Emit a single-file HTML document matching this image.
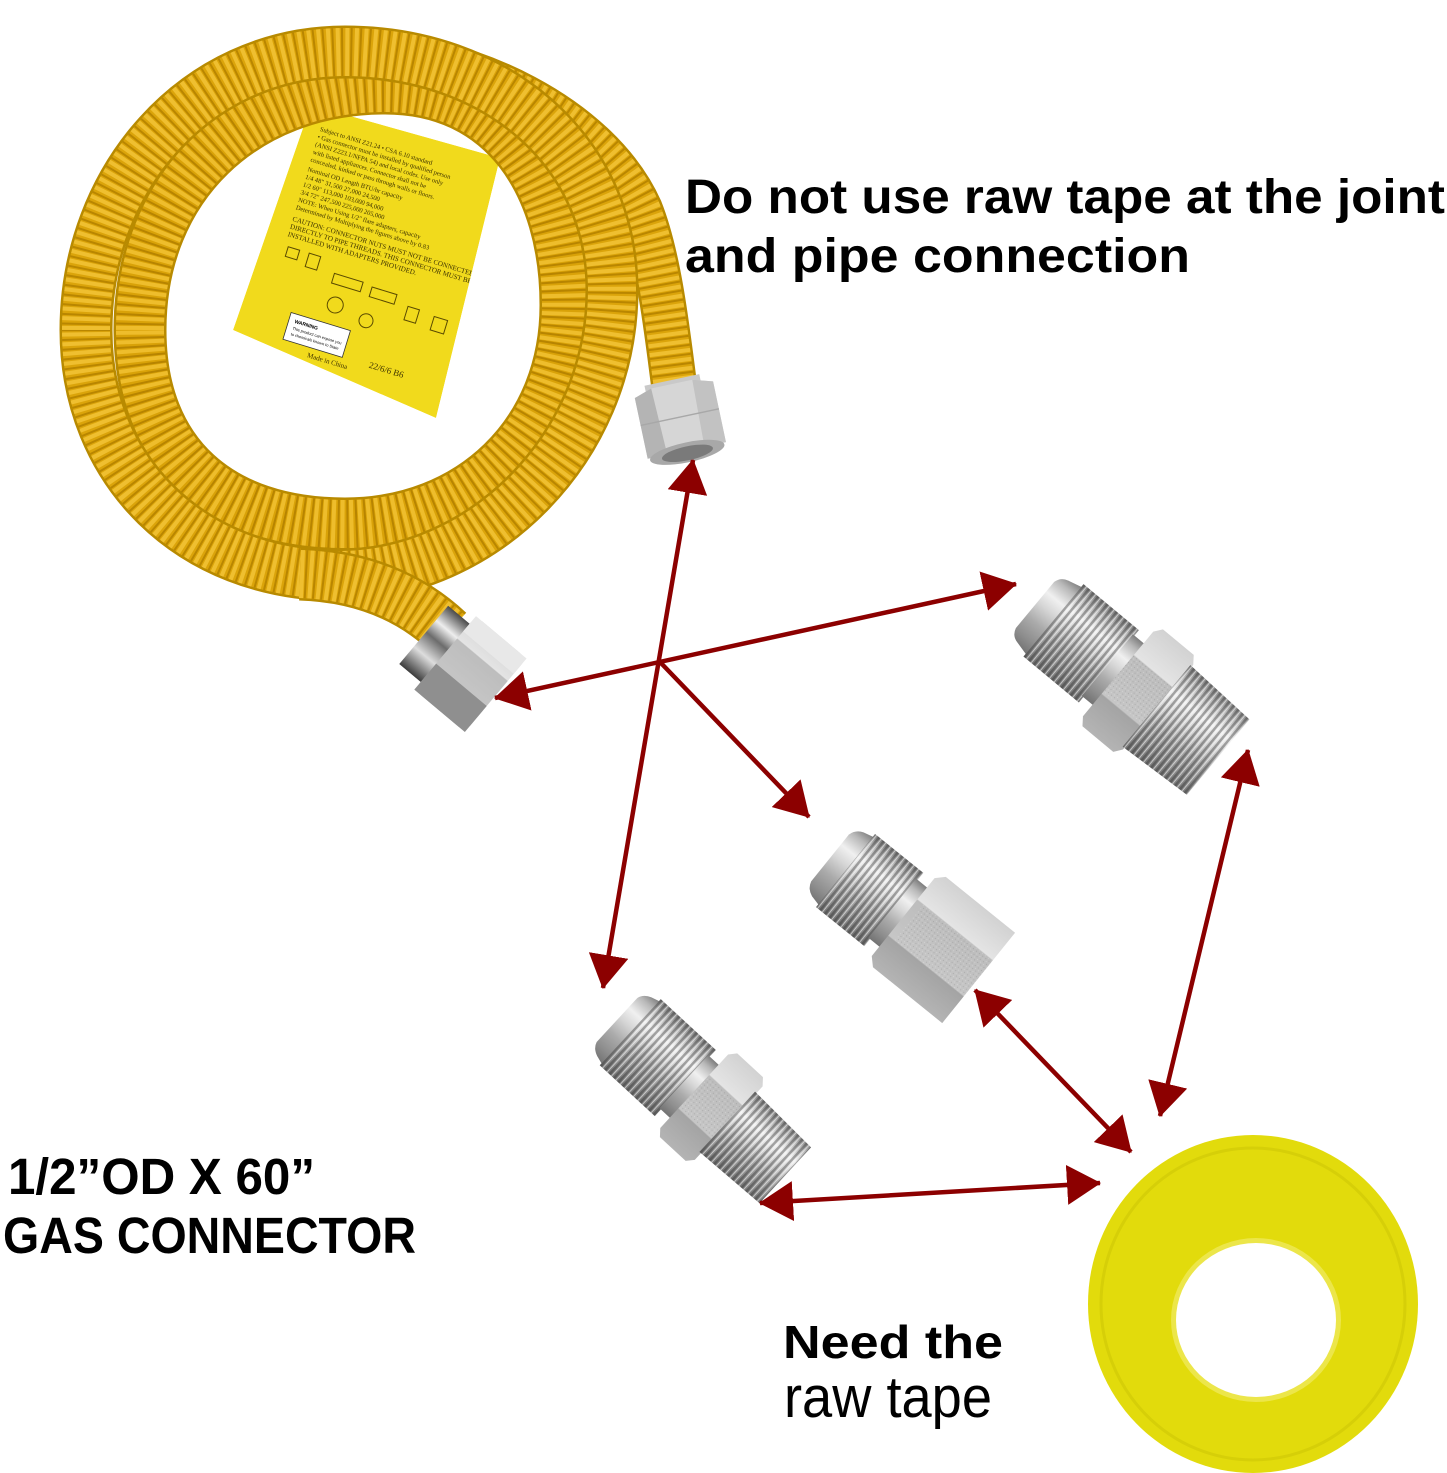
<!DOCTYPE html>
<html>
<head>
<meta charset="utf-8">
<style>
  html,body{margin:0;padding:0;background:#fff;}
  body{width:1447px;height:1473px;overflow:hidden;}
  svg{display:block;}
</style>
</head>
<body>
<svg width="1447" height="1473" viewBox="0 0 1447 1473" xmlns="http://www.w3.org/2000/svg">
<defs>
  <path id="sB" d="M140,330 C140,185 245,88 385,88 C505,88 566,185 566,305 C566,435 470,524 345,524 C220,524 140,455 140,330 Z"/>
  <path id="sA" d="M86,330 C86,180 195,52 345,52 C495,52 612,150 612,290 C612,450 480,575 340,575 C190,575 86,470 86,330 Z"/>
  <path id="sT" d="M300,574 C360,576 410,596 448,632"/>
  <path id="sC" d="M345,52 C470,52 600,120 640,210 C660,260 668,340 675,392"/>

  <linearGradient id="mg" x1="0" y1="0" x2="0" y2="1">
    <stop offset="0" stop-color="#7e7e7e"/>
    <stop offset="0.12" stop-color="#b8b8b8"/>
    <stop offset="0.3" stop-color="#f0f0f0"/>
    <stop offset="0.45" stop-color="#d6d6d6"/>
    <stop offset="0.65" stop-color="#ababab"/>
    <stop offset="0.85" stop-color="#8e8e8e"/>
    <stop offset="1" stop-color="#737373"/>
  </linearGradient>
  <linearGradient id="hg" x1="0" y1="0" x2="0" y2="1">
    <stop offset="0" stop-color="#d2d2d2"/>
    <stop offset="0.3" stop-color="#e4e4e4"/>
    <stop offset="0.31" stop-color="#bdbdbd"/>
    <stop offset="0.7" stop-color="#c6c6c6"/>
    <stop offset="0.71" stop-color="#a4a4a4"/>
    <stop offset="1" stop-color="#b4b4b4"/>
  </linearGradient>
  <linearGradient id="chrome" x1="0" y1="0" x2="0" y2="1">
    <stop offset="0" stop-color="#4a4a4a"/>
    <stop offset="0.25" stop-color="#eeeeee"/>
    <stop offset="0.45" stop-color="#6c6c6c"/>
    <stop offset="0.7" stop-color="#dddddd"/>
    <stop offset="1" stop-color="#3c3c3c"/>
  </linearGradient>
  <pattern id="th" patternUnits="userSpaceOnUse" width="6" height="6">
    <rect x="0" y="0" width="2.5" height="6" fill="rgba(40,40,40,0.38)"/>
    <rect x="3.5" y="0" width="1" height="6" fill="rgba(255,255,255,0.55)"/>
  </pattern>
  <pattern id="grain" patternUnits="userSpaceOnUse" width="4" height="4">
    <rect x="0" y="0" width="1" height="1" fill="rgba(0,0,0,0.12)"/>
    <rect x="2" y="2" width="1" height="1" fill="rgba(255,255,255,0.25)"/>
  </pattern>

  <marker id="ah" viewBox="0 0 34 40" refX="33" refY="20" markerWidth="34" markerHeight="40" markerUnits="userSpaceOnUse" orient="auto-start-reverse">
    <path d="M0,0 L34,20 L0,40 Z" fill="#8c0000"/>
  </marker>

  <clipPath id="lc"><polygon points="311,105 500,158 436,418 233,330"/></clipPath>
</defs>

<rect x="0" y="0" width="1447" height="1473" fill="#ffffff"/>

<!-- ===== Label on hose ===== -->
<g clip-path="url(#lc)">
  <polygon points="311,105 500,158 436,418 233,330" fill="#f1da1c"/>
  <g transform="translate(318,122) rotate(17)" font-family="Liberation Serif, serif" font-size="6.5" fill="#3d3200">
    <text x="4" y="8">Subject to ANSI Z21.24 • CSA 6.10 standard</text>
    <text x="4" y="16">• Gas connector must be installed by qualified person</text>
    <text x="4" y="24">(ANSI Z223.1/NFPA 54) and local codes. Use only</text>
    <text x="4" y="32">with listed appliances. Connector shall not be</text>
    <text x="4" y="40">concealed, kinked or pass through walls or floors.</text>
    <text x="4" y="50">Nominal OD   Length   BTU/hr capacity</text>
    <text x="4" y="58">1/4    48"    31,500   27,000   24,500</text>
    <text x="4" y="66">1/2    60"    113,000  103,000  94,000</text>
    <text x="4" y="74">3/4    72"    247,500  225,000  205,000</text>
    <text x="4" y="82">NOTE: When Using 1/2" flare adapters, capacity</text>
    <text x="4" y="90">Determined by Multiplying the figures above by 0.83</text>
    <text x="4" y="102" font-size="7">CAUTION: CONNECTOR NUTS MUST NOT BE CONNECTED</text>
    <text x="4" y="110" font-size="7">DIRECTLY TO PIPE THREADS. THIS CONNECTOR MUST BE</text>
    <text x="4" y="118" font-size="7">INSTALLED WITH ADAPTERS PROVIDED.</text>
    <g fill="none" stroke="#5a4a00" stroke-width="1">
      <rect x="8" y="128" width="12" height="10"/>
      <rect x="30" y="128" width="12" height="14"/>
      <rect x="60" y="140" width="30" height="10"/>
      <rect x="100" y="142" width="26" height="10"/>
      <rect x="140" y="150" width="12" height="14"/>
      <rect x="168" y="152" width="14" height="14"/>
      <circle cx="70" cy="170" r="8"/>
      <circle cx="104" cy="176" r="7"/>
    </g>
    <rect x="30" y="190" width="62" height="28" fill="#ffffff" stroke="#333" stroke-width="0.8"/>
    <text x="36" y="199" font-size="5" font-family="Liberation Sans, sans-serif" font-weight="bold" fill="#000">WARNING</text>
    <text x="36" y="206" font-size="4" font-family="Liberation Sans, sans-serif" fill="#000">This product can expose you</text>
    <text x="36" y="212" font-size="4" font-family="Liberation Sans, sans-serif" fill="#000">to chemicals known to State</text>
    <text x="58" y="228" font-size="7">Made in China</text>
    <text x="120" y="220" font-size="9">22/6/6 B6</text>
  </g>
</g>

<!-- ===== Hose strands ===== -->
<g fill="none" stroke-linecap="butt">
  <use href="#sC" stroke="#b88a00" stroke-width="46"/>
  <use href="#sC" stroke="#dba40a" stroke-width="41"/>
  <use href="#sC" stroke="#efbf30" stroke-width="41" stroke-dasharray="4 5"/>
  <use href="#sC" stroke="#b98600" stroke-width="41" stroke-dasharray="2 7" stroke-dashoffset="-5"/>

  <use href="#sB" stroke="#b88a00" stroke-width="53"/>
  <use href="#sB" stroke="#d9a208" stroke-width="48"/>
  <use href="#sB" stroke="#eebd2c" stroke-width="48" stroke-dasharray="4 5"/>
  <use href="#sB" stroke="#b78400" stroke-width="48" stroke-dasharray="2 7" stroke-dashoffset="-5"/>

  <use href="#sA" stroke="#b88a00" stroke-width="53"/>
  <use href="#sA" stroke="#dba40a" stroke-width="48"/>
  <use href="#sA" stroke="#efbf30" stroke-width="48" stroke-dasharray="4 5"/>
  <use href="#sA" stroke="#b98600" stroke-width="48" stroke-dasharray="2 7" stroke-dashoffset="-5"/>

  <use href="#sT" stroke="#b88a00" stroke-width="53"/>
  <use href="#sT" stroke="#dba40a" stroke-width="48"/>
  <use href="#sT" stroke="#efbf30" stroke-width="48" stroke-dasharray="4 5"/>
  <use href="#sT" stroke="#b98600" stroke-width="48" stroke-dasharray="2 7" stroke-dashoffset="-5"/>
</g>

<!-- ===== Upper nut ===== -->
<g transform="translate(681,423) rotate(-12)">
  <rect x="-28" y="-44" width="56" height="12" fill="#c9c9c9"/>
  <polygon points="-40,-34 -22,-40 20,-40 40,-34 40,28 -40,28" fill="#d6d6d6"/>
  <polygon points="-40,-34 -22,-40 -20,28 -40,28" fill="#b4b4b4"/>
  <polygon points="20,-40 40,-34 40,28 18,28" fill="#c2c2c2"/>
  <line x1="-40" y1="-6" x2="40" y2="-6" stroke="#a8a8a8" stroke-width="1.5"/>
  <ellipse cx="0" cy="30" rx="38" ry="10" fill="#a8a8a8"/>
  <ellipse cx="0" cy="31" rx="26" ry="7" fill="#7a7a7a"/>
</g>

<!-- ===== Lower nut ===== -->
<g transform="translate(462,667) rotate(40)">
  <rect x="-50" y="-38" width="30" height="76" fill="url(#chrome)"/>
  <polygon points="-22,-40 -14,-48 36,-48 44,-40 44,40 36,48 -14,48 -22,40" fill="url(#hg)"/>
  <rect x="-22" y="14" width="66" height="34" fill="#8f8f8f"/>
  <rect x="-22" y="-48" width="66" height="20" fill="#e8e8e8"/>
</g>

<!-- ===== Fitting 1 (top right) ===== -->
<g transform="translate(1035,605) rotate(39.7)">
  <path d="M0,-30 Q2,-38 10,-40 L26,-44 L26,44 L10,40 Q2,38 0,30 Z" fill="url(#mg)"/>
  <rect x="24" y="-47" width="72" height="94" fill="url(#mg)"/>
  <rect x="24" y="-47" width="72" height="94" fill="url(#th)"/>
  <rect x="94" y="-40" width="16" height="80" fill="url(#mg)"/>
  <path d="M108,-55 L114,-63 L154,-63 L160,-55 L160,55 L154,63 L114,63 L108,55 Z" fill="url(#hg)"/>
  <rect x="108" y="-24" width="52" height="48" fill="url(#grain)"/>
  <path d="M158,-53 L238,-49 L238,49 L158,53 Z" fill="url(#mg)"/>
  <path d="M158,-53 L238,-49 L238,49 L158,53 Z" fill="url(#th)"/>
</g>

<!-- ===== Fitting 2 (middle) ===== -->
<g transform="translate(830,858) rotate(38.9)">
  <path d="M0,-30 Q2,-38 10,-41 L22,-44 L22,44 L10,41 Q2,38 0,30 Z" fill="url(#mg)"/>
  <rect x="20" y="-47" width="62" height="94" fill="url(#mg)"/>
  <rect x="20" y="-47" width="62" height="94" fill="url(#th)"/>
  <rect x="80" y="-38" width="16" height="76" fill="url(#mg)"/>
  <path d="M94,-50 L102,-58 L191,-58 L191,58 L102,58 L94,50 Z" fill="url(#hg)"/>
  <rect x="102" y="-22" width="89" height="46" fill="url(#grain)"/>
</g>

<!-- ===== Fitting 3 (bottom left) ===== -->
<g transform="translate(617,1020) rotate(42.7)">
  <path d="M0,-30 Q2,-37 10,-40 L20,-43 L20,43 L10,40 Q2,37 0,30 Z" fill="url(#mg)"/>
  <rect x="18" y="-45" width="75" height="90" fill="url(#mg)"/>
  <rect x="18" y="-45" width="75" height="90" fill="url(#th)"/>
  <rect x="91" y="-36" width="17" height="72" fill="url(#mg)"/>
  <path d="M105,-50 L111,-57 L146,-57 L152,-50 L152,50 L146,57 L111,57 L105,50 Z" fill="url(#hg)"/>
  <rect x="105" y="-20" width="47" height="42" fill="url(#grain)"/>
  <path d="M150,-41 L229,-38 L229,38 L150,41 Z" fill="url(#mg)"/>
  <path d="M150,-41 L229,-38 L229,38 L150,41 Z" fill="url(#th)"/>
</g>

<!-- ===== Tape ===== -->
<g>
  <ellipse cx="1253" cy="1304" rx="165" ry="169" fill="#e2db0c"/>
  <ellipse cx="1253" cy="1304" rx="152" ry="156" fill="none" stroke="#d6cf08" stroke-width="3"/>
  <ellipse cx="1256" cy="1320" rx="85" ry="82" fill="#ece64a"/>
  <ellipse cx="1256" cy="1320" rx="80" ry="77" fill="#ffffff"/>
</g>

<!-- ===== Arrows ===== -->
<g stroke="#8c0000" stroke-width="4.5" fill="none" stroke-linecap="butt">
  <line x1="693" y1="460" x2="603" y2="988" marker-start="url(#ah)" marker-end="url(#ah)"/>
  <line x1="495" y1="698" x2="1016" y2="584" marker-start="url(#ah)" marker-end="url(#ah)"/>
  <line x1="660" y1="662" x2="809" y2="817" marker-end="url(#ah)"/>
  <line x1="975" y1="990" x2="1131" y2="1152" marker-start="url(#ah)" marker-end="url(#ah)"/>
  <line x1="1248" y1="750" x2="1160" y2="1116" marker-start="url(#ah)" marker-end="url(#ah)"/>
  <line x1="760" y1="1203" x2="1100" y2="1183" marker-start="url(#ah)" marker-end="url(#ah)"/>
</g>

<!-- ===== Text ===== -->
<g font-family="Liberation Sans, Arial, sans-serif" fill="#000">
  <text x="685" y="213" font-size="48" font-weight="bold" textLength="760" lengthAdjust="spacingAndGlyphs">Do not use raw tape at the joint</text>
  <text x="685" y="272" font-size="48" font-weight="bold" textLength="505" lengthAdjust="spacingAndGlyphs">and pipe connection</text>
  <text x="8" y="1194" font-size="51" font-weight="bold" textLength="307" lengthAdjust="spacingAndGlyphs">1/2”OD X 60”</text>
  <text x="3" y="1253" font-size="51" font-weight="bold" textLength="413" lengthAdjust="spacingAndGlyphs">GAS CONNECTOR</text>
  <text x="783" y="1358" font-size="46" font-weight="bold" textLength="220" lengthAdjust="spacingAndGlyphs">Need the</text>
  <text x="784" y="1417" font-size="58" textLength="208" lengthAdjust="spacingAndGlyphs">raw tape</text>
</g>
</svg>
</body>
</html>
